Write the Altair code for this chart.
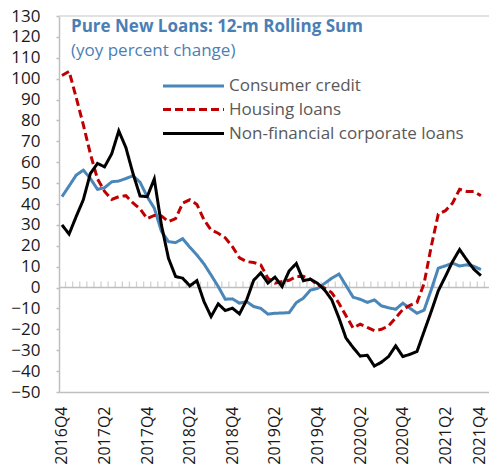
import altair as alt
import pandas as pd

series_names = ["Consumer credit", "Housing loans", "Non-financial corporate loans"]
series_colors = ["#4a86b8", "#c00000", "#000000"]
series_dashes = [[1, 0], [8, 4], [1, 0]]

quarter_labels = ["2016Q4", "2017Q2", "2017Q4", "2018Q2", "2018Q4", "2019Q2",
                  "2019Q4", "2020Q2", "2020Q4", "2021Q2", "2021Q4"]

# monthly values, Dec 2016 .. Nov 2021
consumer = [43.5, 48.6, 53.8, 56.2, 52.2, 47.0, 47.8, 50.6, 51.0, 52.2,
            53.5, 50.4, 43.5, 38.0, 27.0, 22.0, 21.5, 23.4, 19.3, 15.6,
            11.3, 6.0, 0.5, -5.6, -5.4, -7.5, -6.7, -9.1, -10.0, -12.7,
            -12.3, -12.2, -12.0, -7.2, -5.1, -1.2, -0.4, 2.0, 4.5, 6.5,
            1.0, -4.6, -5.6, -7.1, -5.9, -8.8, -9.7, -10.4, -7.5, -9.9,
            -12.3, -10.8, -1.1, 9.3, 10.4, 11.7, 10.3, 10.9, 10.2, 8.6]
housing = [101.5, 103.5, 91.0, 78.0, 64.0, 52.0, 46.0, 42.2, 43.5, 44.0,
           40.5, 37.7, 33.0, 34.5, 34.3, 31.6, 33.0, 40.4, 42.0, 39.8,
           32.4, 27.6, 26.0, 23.8, 19.6, 14.2, 12.4, 12.0, 10.8, 4.5,
           2.1, 2.9, 3.5, 5.3, 5.4, 4.0, 1.3, -0.3, -2.5, -7.5,
           -13.5, -19.4, -17.5, -19.1, -20.6, -20.0, -18.3, -14.5, -10.5, -8.5,
           -7.2, 2.0, 19.6, 35.2, 36.8, 40.4, 47.0, 46.0, 46.0, 44.0]
nfc = [30.0, 25.6, 34.0, 42.0, 54.6, 59.4, 57.8, 64.0, 75.0, 67.0,
       54.6, 43.8, 43.5, 52.0, 30.0, 14.0, 5.3, 4.5, 0.8, 3.3,
       -6.7, -13.9, -7.8, -11.0, -9.9, -12.6, -6.0, 3.5, 7.0, 2.2,
       5.0, 0.5, 8.0, 11.5, 3.3, 4.0, 2.0, -1.2, -5.9, -14.5,
       -24.2, -28.7, -32.8, -32.4, -37.6, -35.7, -33.0, -27.9, -33.0, -32.0,
       -30.6, -21.0, -11.5, -1.5, 5.3, 12.4, 18.2, 13.3, 8.8, 5.7]

title_text = "Pure New Loans: 12-m Rolling Sum"
subtitle_text = "(yoy percent change)"

rows = []
for name, vals in zip(series_names, [consumer, housing, nfc]):
    for i, v in enumerate(vals):
        rows.append({"idx": i, "value": v, "series": name})
df = pd.DataFrame(rows)

ticks_df = pd.DataFrame({"idx": [i + 0.5 for i in range(len(consumer))], "value": [0.0] * len(consumer)})
zero_df = pd.DataFrame({"value": [0.0]})

W, H = 430, 376
FONT = "Open Sans"
GRAY = "#bfbfbf"

xscale = alt.Scale(domain=[-0.42, 60.14], nice=False, zero=False)
yscale = alt.Scale(domain=[-50, 130], nice=False, zero=False)

label_expr = "[" + ",".join(f"'{q}'" for q in quarter_labels) + "][round(datum.value/6)]"

x_axis = alt.Axis(values=list(range(0, 61, 6)), labelExpr=label_expr, labelAngle=270,
                  labelAlign="right", labelBaseline="middle", labelPadding=14,
                  ticks=False, domainColor=GRAY, domainWidth=1.5, labelFont=FONT,
                  labelFontSize=16, labelColor="#1a1a1a", grid=False, title=None,
                  labelOverlap=False, labelBound=False, labelFlush=False,
                  labelOffset={"condition": {"test": "datum.value >= 60", "value": -9}, "value": 0})
y_axis = alt.Axis(values=list(range(-50, 131, 10)), tickSize=3, tickColor=GRAY,
                  tickWidth=1.5, labelPadding=16, domainColor=GRAY, domainWidth=1.5,
                  labelFont=FONT, labelFontSize=17, labelColor="#1a1a1a",
                  grid=False, title=None, labelOverlap=False, labelFlush=False)

X = alt.X("idx:Q", scale=xscale, axis=x_axis)
Y = alt.Y("value:Q", scale=yscale, axis=y_axis)

zero_rule = alt.Chart(zero_df).mark_rule(color=GRAY, strokeWidth=1.5).encode(
    y=Y, x=alt.value(0), x2=alt.value(W)
)

ticks = alt.Chart(ticks_df).mark_tick(orient="vertical", size=6, thickness=1.3, color=GRAY, yOffset=-3).encode(
    x=X, y=Y
)

lines = alt.Chart(df).mark_line(strokeWidth=3).encode(
    x=X,
    y=Y,
    color=alt.Color("series:N", scale=alt.Scale(domain=series_names, range=series_colors), legend=None),
    strokeDash=alt.StrokeDash("series:N", scale=alt.Scale(domain=series_names, range=series_dashes), legend=None),
    order=alt.Order("idx:Q"),
)

top_border = alt.Chart(pd.DataFrame({"a": [0]})).mark_rule(color="#d9d9d9", strokeWidth=1.5).encode(
    x=alt.value(0), x2=alt.value(W), y=alt.value(0)
)

title = alt.Chart(pd.DataFrame({"t": [title_text]})).mark_text(
    align="left", baseline="alphabetic", font=FONT, fontSize=17, fontWeight="bold", color="#4a7fb5"
).encode(x=alt.value(12), y=alt.value(16), text="t:N")

subtitle = alt.Chart(pd.DataFrame({"t": [subtitle_text]})).mark_text(
    align="left", baseline="alphabetic", font=FONT, fontSize=17, color="#4a7fb5"
).encode(x=alt.value(12), y=alt.value(40), text="t:N")

legend_layers = []
legend_y = [70, 93.5, 117.5]
for name, col, dash, ly in zip(series_names, series_colors, series_dashes, legend_y):
    d = pd.DataFrame({"s": [name]})
    legend_layers.append(
        alt.Chart(d).mark_rule(color=col, strokeWidth=3, strokeDash=dash).encode(
            x=alt.value(104), x2=alt.value(165), y=alt.value(ly)
        )
    )
    legend_layers.append(
        alt.Chart(d).mark_text(align="left", baseline="middle", font=FONT, fontSize=17, color="#595959").encode(
            x=alt.value(170), y=alt.value(ly), text="s:N"
        )
    )

chart = alt.layer(
    zero_rule, ticks, top_border, lines, title, subtitle, *legend_layers
).properties(
    width=W, height=H,
    padding={"left": 51, "top": 8, "right": 0, "bottom": 72},
    autosize=alt.AutoSizeParams(type="none"),
    background="white",
).configure_view(stroke=None)

chart.save("out.html", embed_options={"renderer": "svg", "actions": False})
